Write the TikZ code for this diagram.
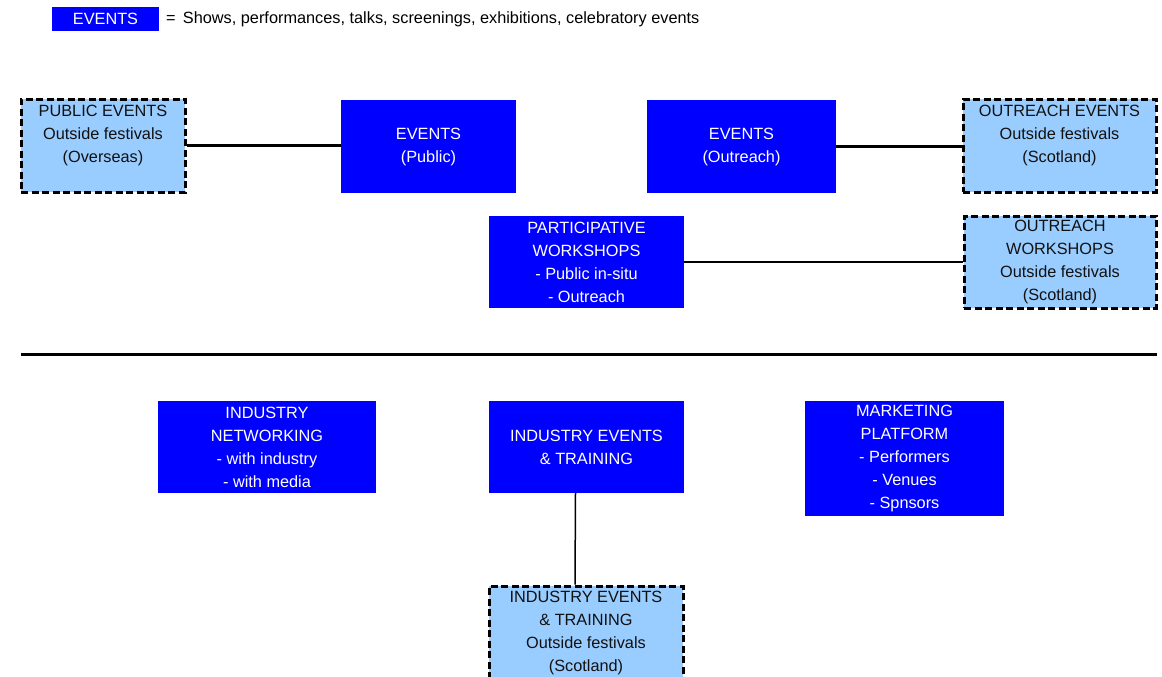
\documentclass[tikz,border=0pt]{standalone}
\usepackage{fontspec}
\setmainfont{Liberation Sans}
\definecolor{evblue}{RGB}{0,0,255}
\definecolor{outblue}{RGB}{153,204,255}
\definecolor{outtext}{RGB}{17,17,17}
\usetikzlibrary{calc,positioning}

\begin{document}
\begin{tikzpicture}[x=1pt,y=-1pt,
        every node/.style={font=\fontsize{16.3}{23}\selectfont,align=center,inner sep=0pt},
        evbox/.style={fill=evblue,text=white},
        outbox/.style={fill=outblue,text=outtext,draw=black,line width=3pt,dash pattern=on 7pt off 3.5pt},
        link/.style={draw=black,line width=#1},
        link/.default=2.5pt]
        \useasboundingbox (0,0) rectangle (1162,677);
        % legend
        \node[evbox,minimum width=107pt,minimum height=24pt] (key) at (105.5,19) {EVENTS};
        \node[anchor=west] (keytext) at (166,19) {= \,Shows, performances, talks, screenings, exhibitions, celebratory events};
        % public side
        \node[outbox,minimum width=164pt,minimum height=93pt] (pubout) at (103,145.5) {PUBLIC EVENTS\\Outside festivals\\(Overseas)\\ \mbox{}};
        \node[evbox,minimum width=175pt,minimum height=93pt] (evpub) at (428.5,146.5) {EVENTS\\(Public)};
        \node[evbox,minimum width=189pt,minimum height=93pt] (evout) at (741.5,146.5) {EVENTS\\(Outreach)};
        \node[outbox,minimum width=193pt,minimum height=93pt] (outev) at (1059.5,145.5) {OUTREACH EVENTS\\Outside festivals\\(Scotland)\\ \mbox{}};
        \node[evbox,minimum width=195pt,minimum height=92pt] (partws) at (586.5,262) {PARTICIPATIVE\\WORKSHOPS\\- Public in-situ\\- Outreach};
        \node[outbox,minimum width=192pt,minimum height=92pt] (outws) at (1060,262) {OUTREACH\\WORKSHOPS\\Outside festivals\\(Scotland)};
        \draw[link] (pubout.east) -- (pubout.east -| evpub.west);
        \draw[link] (evout.east) -- (evout.east -| outev.west);
        \draw[link=2pt] (partws.east) -- (outws.west);
        % divider
        \draw[line width=3pt] (21,354) -- (1157,354);
        % industry side
        \node[evbox,minimum width=218pt,minimum height=92pt] (netw) at (267,447) {INDUSTRY\\NETWORKING\\- with industry\\- with media};
        \node[evbox,minimum width=195pt,minimum height=92pt] (indev) at (586.5,447) {INDUSTRY EVENTS\\\& TRAINING};
        \node[evbox,minimum width=199pt,minimum height=115pt] (mkt) at (904.5,458.5) {MARKETING\\PLATFORM\\- Performers\\- Venues\\- Spnsors};
        \node[outbox,minimum width=194pt,minimum height=93pt] (indout) at (586,632.5) {INDUSTRY EVENTS\\\& TRAINING\\Outside festivals\\(Scotland)};
        \draw[link=1.5pt] ([xshift=-11pt]indev.south) -- ([xshift=-11pt]indout.north);
\end{tikzpicture}
\end{document}
